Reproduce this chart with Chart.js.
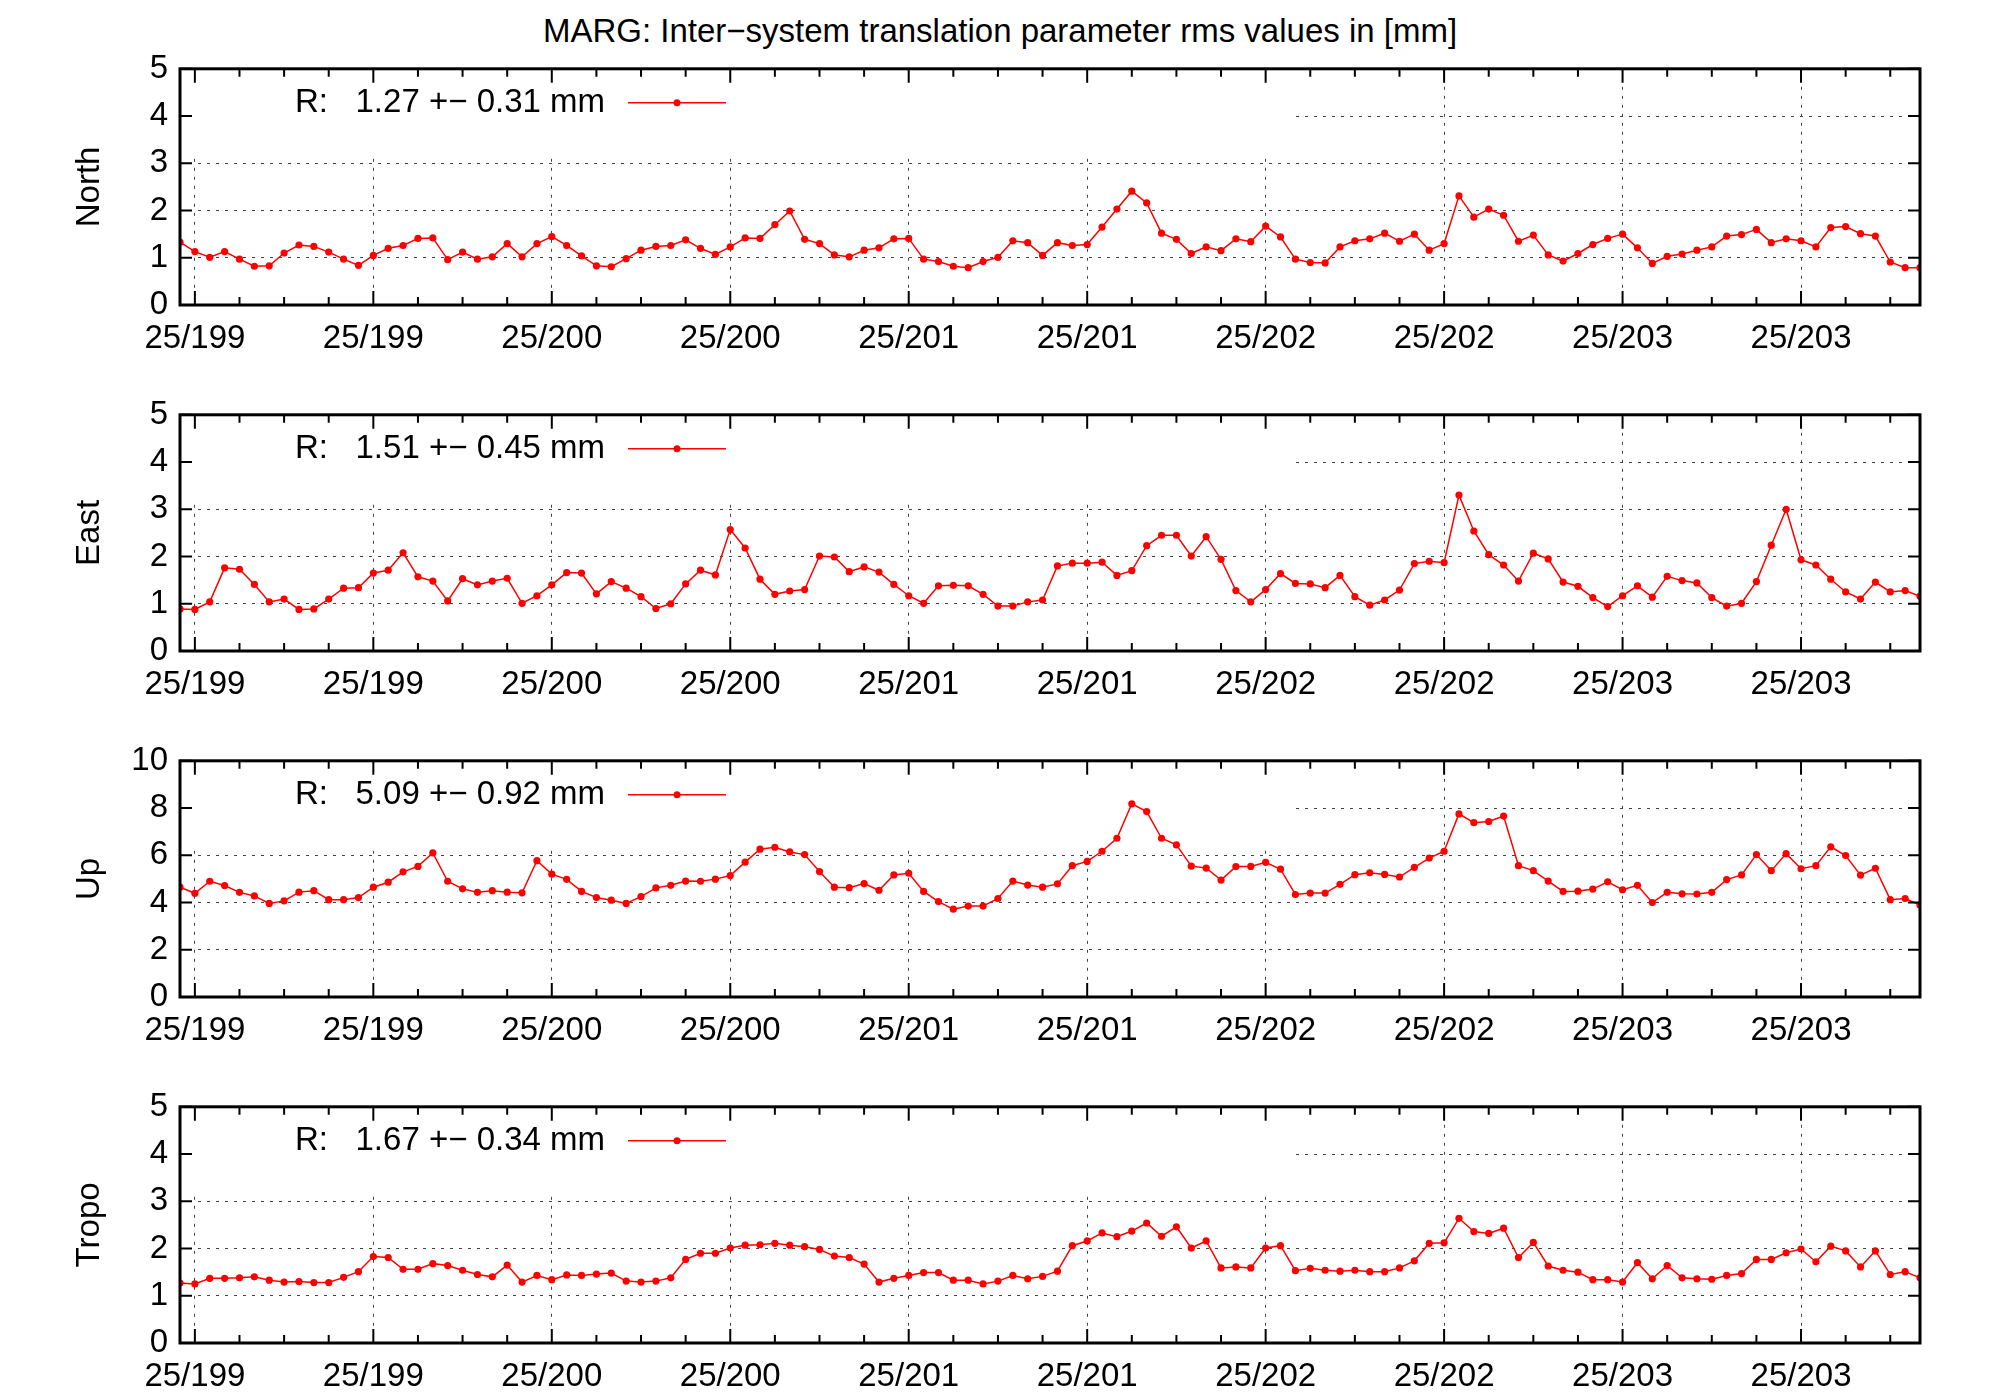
<!DOCTYPE html>
<html><head><meta charset="utf-8">
<script src="https://cdn.jsdelivr.net/npm/chart.js@4"></script>
<style>
body{margin:0;background:#fff;width:2000px;height:1400px;position:relative;overflow:hidden;font-family:"Liberation Sans",Arial,sans-serif;}
#title{position:absolute;left:0;width:2000px;top:12px;text-align:center;font-size:33px;color:#000;}
.wrap{position:absolute;left:0;width:2000px;height:334px;}
</style></head><body>
<div id="title">MARG: Inter−system translation parameter rms values in [mm]</div>
<div class="wrap" style="top:37px"><canvas id="c0"></canvas></div>
<div class="wrap" style="top:383px"><canvas id="c1"></canvas></div>
<div class="wrap" style="top:729px"><canvas id="c2"></canvas></div>
<div class="wrap" style="top:1075px"><canvas id="c3"></canvas></div>
<script>
const panelNames = ["North","East","Up","Tropo"];
const legendTexts = ["R:   1.27 +− 0.31 mm","R:   1.51 +− 0.45 mm","R:   5.09 +− 0.92 mm","R:   1.67 +− 0.34 mm"];
const yMax = [5,5,10,5];
const yStep = [1,1,2,1];
const majorTickMonths = [1,13,25,37,49,61,73,85,97,109];
const xTickLabels = ["25/199","25/199","25/200","25/200","25/201","25/201","25/202","25/202","25/203","25/203"];
const northValues = [1.33,1.13,1.01,1.13,0.97,0.82,0.83,1.10,1.27,1.24,1.12,0.97,0.84,1.05,1.20,1.26,1.41,1.42,0.96,1.12,0.97,1.02,1.30,1.02,1.30,1.45,1.26,1.04,0.83,0.81,0.98,1.16,1.24,1.26,1.38,1.20,1.07,1.23,1.42,1.41,
1.70,1.99,1.39,1.30,1.06,1.02,1.16,1.21,1.40,1.41,0.97,0.92,0.82,0.79,0.92,1.01,1.36,1.32,1.05,1.32,1.26,1.28,1.65,2.03,2.41,2.16,1.52,1.39,1.09,1.23,1.15,1.40,1.34,1.67,1.44,0.97,0.90,0.89,1.23,1.36,
1.40,1.52,1.35,1.50,1.16,1.30,2.31,1.86,2.03,1.90,1.35,1.48,1.06,0.93,1.09,1.28,1.41,1.50,1.21,0.88,1.03,1.08,1.16,1.23,1.46,1.49,1.60,1.32,1.40,1.36,1.23,1.64,1.66,1.51,1.46,0.91,0.79,0.79];
const eastValues = [0.89,0.88,1.04,1.76,1.73,1.41,1.04,1.10,0.88,0.89,1.10,1.33,1.34,1.65,1.71,2.08,1.57,1.48,1.06,1.53,1.40,1.48,1.54,1.01,1.17,1.40,1.66,1.65,1.21,1.47,1.33,1.15,0.90,1.00,1.42,1.71,1.61,2.57,2.18,1.52,
1.20,1.27,1.30,2.01,1.99,1.68,1.78,1.67,1.41,1.17,1.01,1.38,1.39,1.38,1.20,0.95,0.95,1.04,1.08,1.80,1.86,1.86,1.88,1.60,1.70,2.23,2.45,2.45,2.01,2.42,1.94,1.28,1.04,1.30,1.64,1.43,1.42,1.34,1.60,1.15,
0.97,1.08,1.29,1.85,1.90,1.87,3.30,2.54,2.04,1.82,1.48,2.07,1.95,1.46,1.37,1.13,0.94,1.17,1.38,1.14,1.58,1.49,1.44,1.13,0.95,1.01,1.47,2.24,3.00,1.93,1.82,1.52,1.25,1.10,1.46,1.25,1.28,1.16];
const upValues = [4.65,4.39,4.90,4.72,4.43,4.28,3.96,4.07,4.44,4.50,4.12,4.12,4.21,4.65,4.86,5.30,5.53,6.10,4.90,4.58,4.43,4.50,4.44,4.41,5.77,5.20,4.98,4.47,4.21,4.10,3.96,4.25,4.62,4.73,4.91,4.90,4.99,5.14,5.71,6.26,
6.34,6.14,6.03,5.31,4.65,4.63,4.80,4.52,5.17,5.24,4.47,4.04,3.72,3.85,3.85,4.17,4.91,4.74,4.65,4.79,5.56,5.74,6.17,6.72,8.18,7.85,6.72,6.44,5.54,5.46,4.95,5.52,5.53,5.70,5.41,4.34,4.40,4.40,4.77,5.18,
5.26,5.19,5.08,5.49,5.88,6.17,7.75,7.38,7.43,7.66,5.56,5.35,4.91,4.47,4.48,4.57,4.88,4.54,4.73,4.00,4.43,4.37,4.36,4.43,4.97,5.17,6.03,5.35,6.07,5.43,5.56,6.36,5.99,5.16,5.45,4.12,4.17,3.89];
const tropoValues = [1.27,1.25,1.37,1.37,1.38,1.40,1.33,1.29,1.30,1.28,1.28,1.39,1.51,1.83,1.81,1.56,1.56,1.68,1.64,1.54,1.45,1.40,1.65,1.29,1.43,1.34,1.44,1.43,1.46,1.48,1.31,1.29,1.31,1.38,1.77,1.90,1.90,2.01,2.07,2.08,
2.11,2.07,2.04,1.98,1.84,1.81,1.67,1.29,1.37,1.43,1.49,1.49,1.33,1.33,1.25,1.31,1.43,1.36,1.41,1.52,2.06,2.16,2.33,2.25,2.37,2.54,2.26,2.46,2.01,2.16,1.59,1.61,1.59,2.01,2.06,1.53,1.58,1.54,1.52,1.54,
1.51,1.51,1.59,1.74,2.11,2.12,2.64,2.36,2.32,2.43,1.81,2.13,1.63,1.54,1.50,1.34,1.34,1.29,1.70,1.36,1.64,1.38,1.36,1.35,1.43,1.47,1.77,1.77,1.91,1.99,1.72,2.05,1.95,1.61,1.95,1.45,1.51,1.38];
const allValues = [northValues,eastValues,upValues,tropoValues];
const xMin = 0, xMax = 117;

const FONT = '"Liberation Sans", Arial, sans-serif';
Chart.defaults.font.family = FONT;
Chart.defaults.color = '#000';

const framePlugin = {
  id:'frame',
  beforeDatasetsDraw(chart){
    const ca = chart.chartArea, c = chart.ctx;
    c.save(); c.fillStyle='#fff';
    c.fillRect(ca.left+2, ca.top+2, 1290-ca.left, 86);
    c.restore();
  },
  afterDatasetsDraw(chart, args, opts){
    const ca = chart.chartArea, c = chart.ctx, xs = chart.scales.x, ys = chart.scales.y;
    c.save();
    c.strokeStyle='#000';
    c.lineWidth=2;
    for(let m=1;m<=xMax;m+=3){
      const px = xs.getPixelForValue(m);
      const len = majorTickMonths.includes(m)?14:8;
      c.beginPath(); c.moveTo(px,ca.bottom); c.lineTo(px,ca.bottom-len);
      c.moveTo(px,ca.top); c.lineTo(px,ca.top+len); c.stroke();
    }
    for(let v=0; v<=ys.max; v+=opts.step){
      const py = ys.getPixelForValue(v);
      c.beginPath(); c.moveTo(ca.left,py); c.lineTo(ca.left+12,py);
      c.moveTo(ca.right,py); c.lineTo(ca.right-12,py); c.stroke();
    }
    c.lineWidth=3;
    c.strokeRect(ca.left,ca.top,ca.right-ca.left,ca.bottom-ca.top);
    c.font='33px '+FONT; c.fillStyle='#000'; c.textBaseline='middle'; c.textAlign='right';
    const ky = ca.top+34;
    c.fillText(opts.text, 605, ky);
    c.strokeStyle='#ff0000'; c.lineWidth=1.5;
    c.beginPath(); c.moveTo(628,ky); c.lineTo(726,ky); c.stroke();
    c.fillStyle='#ff0000'; c.beginPath(); c.arc(677,ky,3.5,0,Math.PI*2); c.fill();
    c.restore();
  }
};

allValues.forEach((vals,i)=>{
  const pts = vals.map((v,k)=>({x:k,y:v}));
  new Chart(document.getElementById('c'+i),{
    type:'line',
    data:{datasets:[{data:pts,borderColor:'#ff0000',backgroundColor:'#ff0000',borderWidth:1.5,pointRadius:3.6,pointHoverRadius:3.6,pointBorderWidth:0,tension:0}]},
    plugins:[framePlugin],
    options:{
      responsive:true, maintainAspectRatio:false, animation:false,
      layout:{padding:{top:17,right:80,left:70,bottom:0}},
      plugins:{legend:{display:false},tooltip:{enabled:false},frame:{text:legendTexts[i],step:yStep[i]}},
      scales:{
        x:{type:'linear',min:xMin,max:xMax,
          afterBuildTicks(s){ s.ticks = majorTickMonths.map(v=>({value:v})); },
          afterFit(s){ s.height=66; },
          border:{display:false,dash:[3,6]},
          grid:{color:'#444',lineWidth:1,drawTicks:false},
          ticks:{padding:14,maxRotation:0,autoSkip:false,font:{size:33},
            callback(v){ const j=majorTickMonths.indexOf(v); return j>=0?xTickLabels[j]:''; }}
        },
        y:{min:0,max:yMax[i],
          afterBuildTicks(s){ const t=[]; for(let v=0;v<=yMax[i];v+=yStep[i]) t.push({value:v}); s.ticks=t; },
          afterFit(s){ s.width=110; },
          border:{display:false,dash:[3,6]},
          title:{display:true,text:panelNames[i],font:{size:33},padding:{top:0,bottom:12}},
          grid:{color:(ctx)=> (ctx.tick && (ctx.tick.value===0||ctx.tick.value===yMax[i]))?'rgba(0,0,0,0)':'#444',lineWidth:1,drawTicks:false},
          ticks:{padding:12,font:{size:33}}
        }
      }
    }
  });
});
</script></body></html>
